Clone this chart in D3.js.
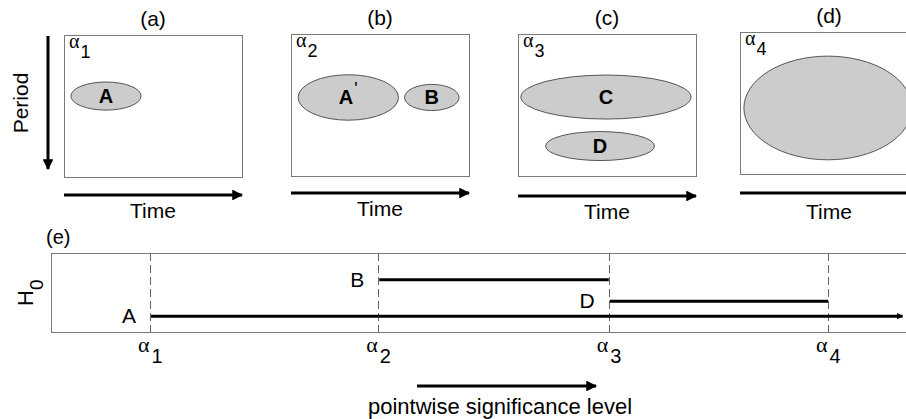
<!DOCTYPE html>
<html>
<head>
<meta charset="utf-8">
<script src="https://cdn.jsdelivr.net/npm/d3@7"></script>
<style>
  body { margin: 0; background: #fff; }
  svg { display: block; font-family: "Liberation Sans", Arial, sans-serif; }
  .box { fill: none; stroke: #7a7a7a; stroke-width: 1; }
  .region { fill: #cccccc; stroke: #555; stroke-width: 1; }
  .arrow { stroke: #000; stroke-width: 3; fill: none; }
  .alpha { font-family: "Liberation Serif", "DejaVu Serif", serif; }
</style>
</head>
<body>
<div id="chart"></div>
<script>
  // panels (a)-(d): detected regions in the time/period plane
  const panelTitles = ["(a)", "(b)", "(c)", "(d)"];
  const panelAlphas = ["1", "2", "3", "4"];

  const regionPanel = [0, 1, 1, 2, 2, 3];
  const regionLabels = ["A", "A", "B", "C", "D", ""];
  const regionPrime = [false, true, false, false, false, false];
  const regionTime = [0.236, 0.322, 0.791, 0.494, 0.461, 0.494];
  const regionPeriod = [0.43, 0.447, 0.447, 0.444, 0.789, 0.535];
  const regionTimeSpread = [0.197, 0.282, 0.153, 0.478, 0.306, 0.472];
  const regionPeriodSpread = [0.099, 0.16, 0.092, 0.155, 0.102, 0.365];

  // panel (e): rejected null hypotheses vs pointwise significance level
  const alphaLevels = [1, 2.01, 3.03, 4];
  const alphaLabels = ["1", "2", "3", "4"];
  const hypLabels = ["A", "B", "D"];
  const hypStart = [1, 2.01, 3.03];
  const hypEnd = [4.33, 3.03, 4];
  const hypRow = [0.2, 0.66, 0.39];
  const hypOpen = [true, false, false];

  const W = 906, H = 419;
  const svg = d3.select("#chart").append("svg")
      .attr("width", W).attr("height", H);

  const defs = svg.append("defs");
  defs.append("marker")
      .attr("id", "head")
      .attr("viewBox", "0 0 10 10")
      .attr("refX", 9).attr("refY", 5)
      .attr("markerWidth", 4.2).attr("markerHeight", 3.6)
      .attr("markerUnits", "strokeWidth")
      .attr("orient", "auto")
    .append("path")
      .attr("d", "M0,0L10,5L0,10Z")
      .attr("fill", "#000");
  defs.append("marker")
      .attr("id", "headSmall")
      .attr("viewBox", "0 0 10 10")
      .attr("refX", 9).attr("refY", 5)
      .attr("markerWidth", 2.2).attr("markerHeight", 2.8)
      .attr("markerUnits", "strokeWidth")
      .attr("orient", "auto")
    .append("path")
      .attr("d", "M0,0L10,5L0,10Z")
      .attr("fill", "#000");

  // layout of the four small panels
  const panelLeft = [64, 291, 518, 740];
  const panelTop = [35, 34, 34, 32];
  const panelW = 178, panelH = 142;
  const arrowY = [195, 193, 196, 193];
  const timeY = [218, 216, 219, 219];
  const titleY = [26, 25, 25, 23];

  panelTitles.forEach((title, i) => {
    const x = d3.scaleLinear().domain([0, 1]).range([panelLeft[i], panelLeft[i] + panelW]);
    const y = d3.scaleLinear().domain([0, 1]).range([panelTop[i], panelTop[i] + panelH]);
    const g = svg.append("g");

    g.append("rect").attr("class", "box")
        .attr("x", x(0) + 0.5).attr("y", y(0) + 0.5)
        .attr("width", x(1) - x(0)).attr("height", y(1) - y(0));

    g.append("text")
        .attr("x", x(0.5)).attr("y", titleY[i])
        .attr("text-anchor", "middle")
        .attr("font-size", 21)
        .text(title);

    const a = g.append("text").attr("class", "alpha")
        .attr("x", x(0) + 5).attr("y", y(0) + 13)
        .attr("font-size", 20);
    a.append("tspan").text("α");
    a.append("tspan").attr("font-family", "Liberation Sans, Arial, sans-serif")
        .attr("font-size", 18).attr("dx", 1).attr("dy", 10).text(panelAlphas[i]);

    const idx = d3.range(regionPanel.length).filter(k => regionPanel[k] === i);
    g.selectAll("ellipse").data(idx).join("ellipse")
        .attr("class", "region")
        .attr("cx", k => x(regionTime[k]))
        .attr("cy", k => y(regionPeriod[k]))
        .attr("rx", k => x(regionTimeSpread[k]) - x(0))
        .attr("ry", k => y(regionPeriodSpread[k]) - y(0));

    const lbl = g.selectAll("text.rl").data(idx.filter(k => regionLabels[k])).join("text")
        .attr("class", "rl")
        .attr("x", k => x(regionTime[k]))
        .attr("y", k => y(regionPeriod[k]) + 7)
        .attr("text-anchor", "middle")
        .attr("font-size", 20)
        .attr("font-weight", "bold");
    lbl.append("tspan").text(k => regionLabels[k]);
    lbl.filter(k => regionPrime[k]).append("tspan")
        .attr("font-weight", "normal").attr("font-size", 18)
        .attr("dx", 1).attr("dy", -9).text("'");

    // time arrow under the panel
    g.append("line").attr("class", "arrow")
        .attr("x1", x(0)).attr("x2", x(1))
        .attr("y1", arrowY[i]).attr("y2", arrowY[i])
        .attr("marker-end", "url(#head)");
    g.append("text")
        .attr("x", x(0.5)).attr("y", timeY[i])
        .attr("text-anchor", "middle")
        .attr("font-size", 21)
        .text("Time");
  });

  // period arrow on the left of panel (a)
  svg.append("line").attr("class", "arrow")
      .attr("x1", 48).attr("x2", 48).attr("y1", 36).attr("y2", 169)
      .attr("marker-end", "url(#head)");
  svg.append("text")
      .attr("transform", "translate(28,103) rotate(-90)")
      .attr("text-anchor", "middle")
      .attr("font-size", 21)
      .text("Period");

  // panel (e)
  const eTop = 253, eBottom = 332, eLeft = 51;
  const sx = d3.scaleLinear().domain([1, 4]).range([150, 828]);
  const sy = d3.scaleLinear().domain([0, 1]).range([eBottom, eTop]);
  const ge = svg.append("g");

  ge.append("rect").attr("class", "box")
      .attr("x", eLeft + 0.5).attr("y", eTop + 0.5)
      .attr("width", W + 10 - eLeft).attr("height", eBottom - eTop);

  ge.append("text")
      .attr("x", 46).attr("y", 244)
      .attr("font-size", 20)
      .text("(e)");

  const h0 = ge.append("text")
      .attr("transform", "translate(33,306) rotate(-90)")
      .attr("font-size", 22);
  h0.append("tspan").text("H");
  h0.append("tspan").attr("font-size", 19).attr("dy", 10).text("0");

  ge.selectAll("line.alpha-level").data(alphaLevels).join("line")
      .attr("class", "alpha-level")
      .attr("x1", d => Math.round(sx(d)) + 0.5).attr("x2", d => Math.round(sx(d)) + 0.5)
      .attr("y1", eTop).attr("y2", eBottom)
      .attr("stroke", "#666").attr("stroke-width", 1)
      .attr("stroke-dasharray", "8,4");

  const at = ge.selectAll("text.alpha").data(alphaLevels).join("text")
      .attr("class", "alpha")
      .attr("x", d => sx(d) - 12).attr("y", 352)
      .attr("font-size", 22);
  at.append("tspan").text("α");
  at.append("tspan").attr("font-family", "Liberation Sans, Arial, sans-serif")
      .attr("font-size", 20).attr("dx", 2).attr("dy", 11)
      .text((d, i) => alphaLabels[i]);

  ge.selectAll("line.hyp").data(hypLabels).join("line")
      .attr("class", "hyp")
      .attr("x1", (d, i) => sx(hypStart[i]) + 1)
      .attr("x2", (d, i) => sx(hypEnd[i]))
      .attr("y1", (d, i) => sy(hypRow[i])).attr("y2", (d, i) => sy(hypRow[i]))
      .attr("stroke", "#000").attr("stroke-width", 3)
      .attr("marker-end", (d, i) => hypOpen[i] ? "url(#headSmall)" : null);

  ge.selectAll("text.hyp").data(hypLabels).join("text")
      .attr("class", "hyp")
      .attr("x", (d, i) => sx(hypStart[i]) - 14)
      .attr("y", (d, i) => sy(hypRow[i]) + 7)
      .attr("text-anchor", "end")
      .attr("font-size", 21)
      .text(d => d);

  ge.append("line").attr("class", "arrow")
      .attr("x1", 417).attr("x2", 596).attr("y1", 386).attr("y2", 386)
      .attr("marker-end", "url(#head)");
  ge.append("text")
      .attr("x", 500).attr("y", 414)
      .attr("text-anchor", "middle")
      .attr("font-size", 22)
      .text("pointwise significance level");
</script>
</body>
</html>
